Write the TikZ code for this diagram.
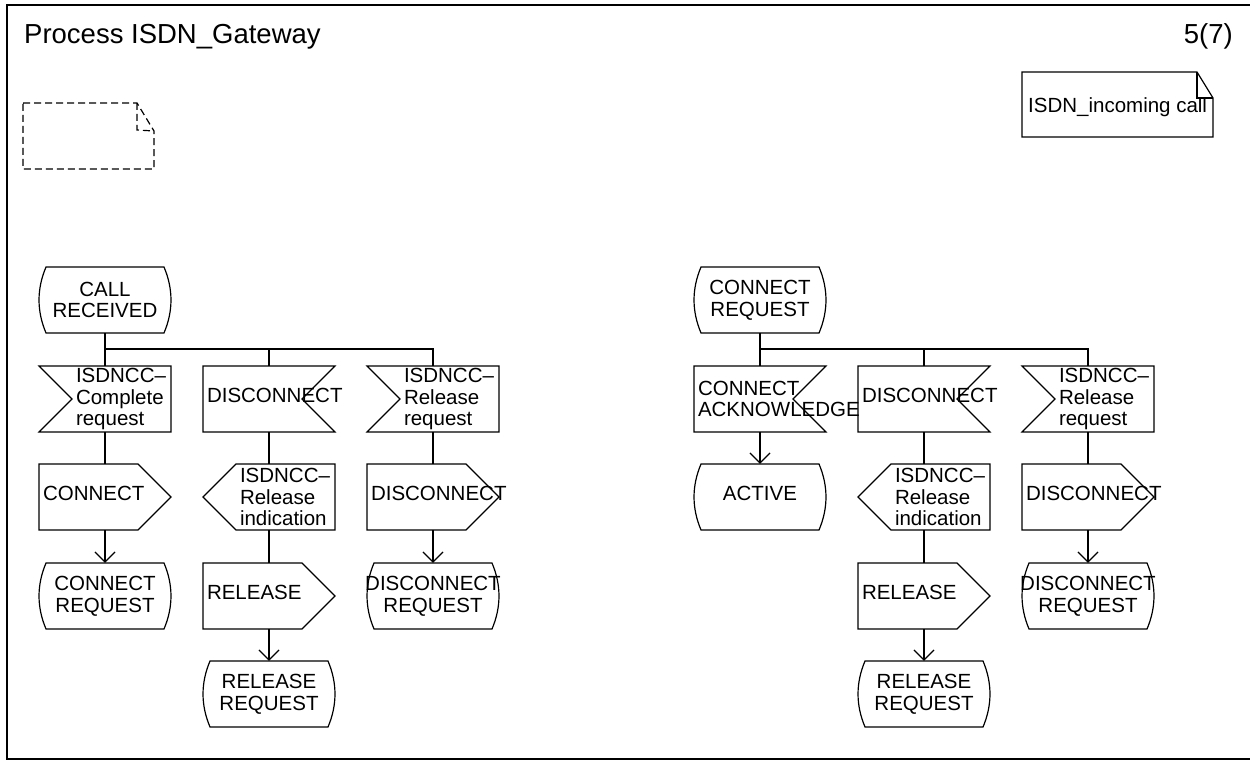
\documentclass[tikz,border=0pt]{standalone}
\usepackage{fontspec}
\setmainfont{Liberation Sans}
\usetikzlibrary{arrows.meta}
\newcommand\labfont{\fontsize{20.5}{21.7}\selectfont}
\newcommand\titfont{\fontsize{27.5}{32}\selectfont}
\newcommand\sdlpt[3]{([shift={(#2pt,#3pt)}]#1.center)}
\newcommand\shpstate[1]{\draw[sym] \sdlpt{#1}{-59}{33} -- \sdlpt{#1}{59}{33} .. controls \sdlpt{#1}{68.3}{11} and \sdlpt{#1}{68.3}{-11} .. \sdlpt{#1}{59}{-33} -- \sdlpt{#1}{-59}{-33} .. controls \sdlpt{#1}{-68.3}{-11} and \sdlpt{#1}{-68.3}{11} .. cycle;}
\newcommand\shpinL[1]{\draw[sym] \sdlpt{#1}{-66}{33} -- \sdlpt{#1}{66}{33} -- \sdlpt{#1}{66}{-33} -- \sdlpt{#1}{-66}{-33} -- \sdlpt{#1}{-33}{0} -- cycle;}
\newcommand\shpinR[1]{\draw[sym] \sdlpt{#1}{-66}{33} -- \sdlpt{#1}{66}{33} -- \sdlpt{#1}{33}{0} -- \sdlpt{#1}{66}{-33} -- \sdlpt{#1}{-66}{-33} -- cycle;}
\newcommand\shpoutR[1]{\draw[sym] \sdlpt{#1}{-66}{33} -- \sdlpt{#1}{33}{33} -- \sdlpt{#1}{66}{0} -- \sdlpt{#1}{33}{-33} -- \sdlpt{#1}{-66}{-33} -- cycle;}
\newcommand\shpoutL[1]{\draw[sym] \sdlpt{#1}{-33}{33} -- \sdlpt{#1}{66}{33} -- \sdlpt{#1}{66}{-33} -- \sdlpt{#1}{-33}{-33} -- \sdlpt{#1}{-66}{0} -- cycle;}
\tikzset{
  sym/.style={line width=1.2pt},
  lab/.style={font=\labfont, inner ysep=0pt, minimum height=66pt},
  lefttext/.style={lab, text width=124pt, inner xsep=4pt, align=left},
  indtext/.style={lefttext, execute at begin node={\leftskip=33pt}},
  stxt/.style={lab, inner xsep=0pt, minimum width=132pt, align=center},
  oneline/.style={text height=14.7pt, text depth=7pt},
  flow/.style={line width=1.2pt},
  arr/.style={flow, -{Straight Barb[length=10pt,width=20pt]}},
}
\begin{document}
\begin{tikzpicture}[x=1pt,y=-1pt]
\useasboundingbox (0,0) rectangle (1250,765);
% frame
\draw[line width=1.5pt] (1250,5) -- (7,5) -- (7,759) -- (1250,759);
\node[font=\titfont, anchor=base west, inner sep=0pt] (title) at (24,44) {Process ISDN\_Gateway};
\node[font=\titfont, anchor=base east, inner sep=0pt] (page) at (1233,44) {5(7)};
% comment symbols
\draw[sym, dash pattern=on 7pt off 4pt] (23,103) -- (137,103) -- (154,131) -- (154,169) -- (23,169) -- cycle;
\draw[sym, dash pattern=on 7pt off 4pt] (137,103) -- (137,130) -- (154,131);
\node[font=\labfont, anchor=west, inner sep=0pt] (note) at (1028,107) {ISDN\_incoming call};
\draw[sym] (1022,72) -- (1197,72) -- (1213,98) -- (1213,137) -- (1022,137) -- cycle;
\draw[sym] (1197,72) -- (1197,98) -- (1213,98);
% left group
\node[stxt] (s1) at (105,300) {CALL\\RECEIVED};
\node[indtext] (i11) at (105,399) {ISDNCC--\\Complete\\request};
\node[lefttext, oneline] (i12) at (269,399) {DISCONNECT};
\node[indtext] (i13) at (433,399) {ISDNCC--\\Release\\request};
\node[lefttext, oneline] (o11) at (105,497) {CONNECT};
\node[indtext] (o12) at (269,497) {ISDNCC--\\Release\\indication};
\node[lefttext, oneline] (o13) at (433,497) {DISCONNECT};
\node[stxt] (s11) at (105,596) {CONNECT\\REQUEST};
\node[lefttext, oneline] (o22) at (269,596) {RELEASE};
\node[stxt] (s13) at (433,596) {DISCONNECT\\REQUEST};
\node[stxt] (s12) at (269,694) {RELEASE\\REQUEST};
\shpstate{s1}
\shpinL{i11}
\shpinR{i12}
\shpinL{i13}
\shpoutR{o11}
\shpoutL{o12}
\shpoutR{o13}
\shpstate{s11}
\shpoutR{o22}
\shpstate{s13}
\shpstate{s12}
\coordinate (b1) at (105,349);
\draw[flow] (s1.south) -- (b1) -| (i13.north);
\draw[flow] (b1) -- (i11.north);
\draw[flow] (b1 -| i12.north) -- (i12.north);
\draw[flow] (i11.south) -- (o11.north);
\draw[arr] (o11.south) -- (s11.north);
\draw[flow] (i12.south) -- (o12.north);
\draw[flow] (o12.south) -- (o22.north);
\draw[arr] (o22.south) -- (s12.north);
\draw[flow] (i13.south) -- (o13.north);
\draw[arr] (o13.south) -- (s13.north);
% right group
\node[stxt] (s2) at (760,300) {CONNECT\\REQUEST};
\node[lefttext] (i21) at (760,399) {CONNECT\\ACKNOWLEDGE};
\node[lefttext, oneline] (i22) at (924,399) {DISCONNECT};
\node[indtext] (i23) at (1088,399) {ISDNCC--\\Release\\request};
\node[stxt, oneline] (s21) at (760,497) {ACTIVE};
\node[indtext] (o22r) at (924,497) {ISDNCC--\\Release\\indication};
\node[lefttext, oneline] (o23r) at (1088,497) {DISCONNECT};
\node[lefttext, oneline] (o32r) at (924,596) {RELEASE};
\node[stxt] (s23) at (1088,596) {DISCONNECT\\REQUEST};
\node[stxt] (s22) at (924,694) {RELEASE\\REQUEST};
\shpstate{s2}
\shpinR{i21}
\shpinR{i22}
\shpinL{i23}
\shpstate{s21}
\shpoutL{o22r}
\shpoutR{o23r}
\shpoutR{o32r}
\shpstate{s23}
\shpstate{s22}
\coordinate (b2) at (760,349);
\draw[flow] (s2.south) -- (b2) -| (i23.north);
\draw[flow] (b2) -- (i21.north);
\draw[flow] (b2 -| i22.north) -- (i22.north);
\draw[arr] (i21.south) -- (s21.north);
\draw[flow] (i22.south) -- (o22r.north);
\draw[flow] (o22r.south) -- (o32r.north);
\draw[arr] (o32r.south) -- (s22.north);
\draw[flow] (i23.south) -- (o23r.north);
\draw[arr] (o23r.south) -- (s23.north);
\end{tikzpicture}
\end{document}
